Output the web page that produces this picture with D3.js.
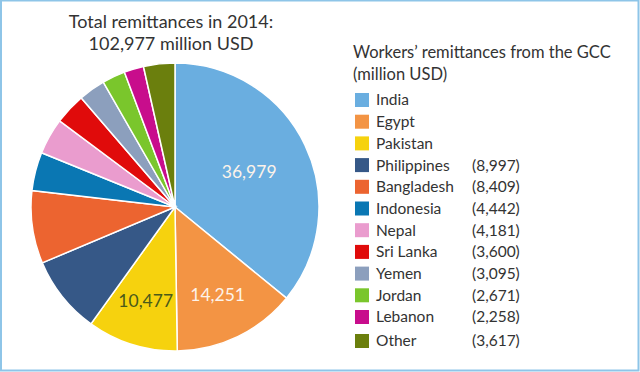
<!DOCTYPE html>
<html>
<head>
<meta charset="utf-8">
<script src="https://cdn.jsdelivr.net/npm/d3@7"></script>
<style>
  html, body { margin: 0; padding: 0; background: #fff; }
  svg { display: block; font-family: Lato, "Noto Sans", sans-serif; }
</style>
</head>
<body>
<svg id="chart"></svg>
<script>
// data
const countries = ['India', 'Egypt', 'Pakistan', 'Philippines', 'Bangladesh', 'Indonesia',
  'Nepal', 'Sri Lanka', 'Yemen', 'Jordan', 'Lebanon', 'Other']
const remittances = [36979, 14251, 10477, 8997, 8409, 4442, 4181, 3600, 3095, 2671, 2258, 3617]
const colors = ['#6aaee0', '#f39444', '#f6d20e', '#365887', '#ec6430', '#0a77b3',
  '#ea9cce', '#e00b0b', '#8c9fbd', '#7ac62c', '#c80d8c', '#6b7f0d']
const inPieLabels = ['India', 'Egypt', 'Pakistan'] // these get the value on the slice
const titleLines = ['Total remittances in 2014:', '102,977 million USD']
const legendTitle = ['Workers\u2019 remittances from the GCC', '(million USD)']

const width = 640, height = 372
const fmt = d3.format(',')

let svg = d3.select('#chart').attr('width', width).attr('height', height)

// light blue frame
svg.append('rect')
  .attr('x', 1).attr('y', 0.5).attr('width', width - 2.5).attr('height', height - 2)
  .attr('fill', 'none').attr('stroke', '#8ec5e8').attr('stroke-width', 2)

// title
svg.append('text')
  .attr('x', 171).attr('y', 28)
  .attr('text-anchor', 'middle')
  .attr('font-size', 18).attr('fill', '#333')
  .selectAll('tspan').data(titleLines).enter().append('tspan')
  .attr('x', 171).attr('dy', (d, i) => i ? 22 : 0)
  .text(d => d)

// pie
const cx = 175, cy = 207, radius = 144
let data = countries.map((c, i) => ({ name: c, value: remittances[i], color: colors[i] }))

let pie = d3.pie().sort(null).value(d => d.value)
let arc = d3.arc().innerRadius(0).outerRadius(radius)
// big slice label sits a bit further in (like excel's best fit)
const labelArc = d => {
  let r = radius * (d.data.name === 'India' ? 0.57 : 0.68)
  return d3.arc().innerRadius(r).outerRadius(r).centroid(d)
}

let g = svg.append('g').attr('transform', `translate(${cx},${cy})`)
let arcs = pie(data)

g.selectAll('path').data(arcs).enter().append('path')
  .attr('d', arc)
  .attr('fill', d => d.data.color)
  .attr('stroke', '#fff').attr('stroke-width', 1.5)

g.selectAll('text').data(arcs.filter(d => inPieLabels.includes(d.data.name))).enter()
  .append('text')
  .attr('transform', d => `translate(${labelArc(d)})`)
  .attr('text-anchor', 'middle').attr('dy', '0.35em')
  .attr('font-size', 17.5)
  .attr('fill', d => d.data.name === 'Pakistan' ? '#4a5a1a' : '#fdf3ea')
  .text(d => fmt(d.data.value))

// legend
let legend = svg.append('g')
legend.append('text')
  .attr('x', 353).attr('y', 58)
  .attr('font-size', 16.5).attr('fill', '#333')
  .selectAll('tspan').data(legendTitle).enter().append('tspan')
  .attr('x', 353).attr('dy', (d, i) => i ? 22 : 0)
  .text(d => d)

let rowY = d3.scalePoint().domain(countries.slice(0, -1)).range([100, 317])
const yOf = name => name === 'Other' ? 341 : rowY(name)

let rows = legend.selectAll('g.row').data(data).enter().append('g')
  .attr('class', 'row')
  .attr('transform', d => `translate(0,${yOf(d.name)})`)

rows.append('rect')
  .attr('x', 355).attr('y', -7).attr('width', 14).attr('height', 14)
  .attr('fill', d => d.color)

rows.append('text')
  .attr('x', 376).attr('dy', '0.35em')
  .attr('font-size', 15.5).attr('fill', '#333')
  .text(d => d.name)

rows.filter(d => !inPieLabels.includes(d.name)).append('text')
  .attr('x', 472).attr('dy', '0.35em')
  .attr('font-size', 15.5).attr('fill', '#333')
  .text(d => `(${fmt(d.value)})`)
</script>
</body>
</html>
